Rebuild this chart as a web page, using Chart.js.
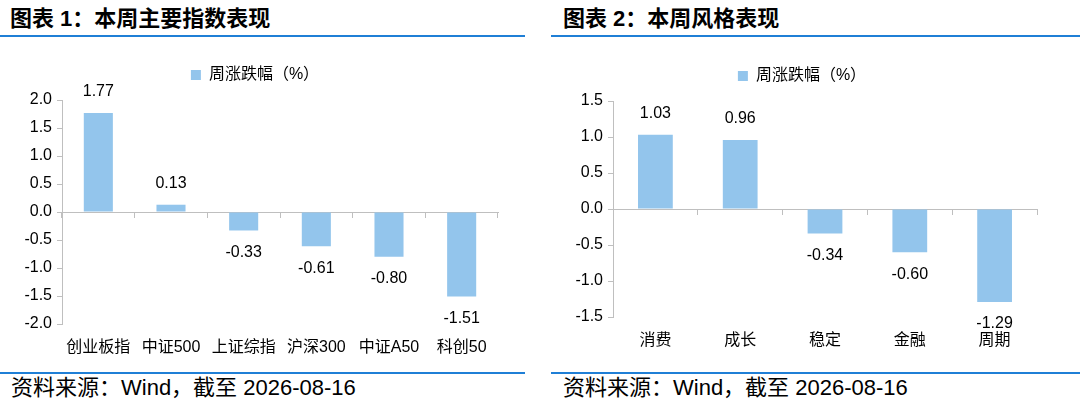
<!DOCTYPE html>
<html>
<head>
<meta charset="utf-8">
<script src="https://cdn.jsdelivr.net/npm/chart.js@4.4.1/dist/chart.umd.min.js"></script>
<style>
    body { margin: 0; background: #fff; width: 1080px; height: 404px; overflow: hidden; position: relative;
           font-family: "Liberation Sans", "Noto Sans CJK SC", sans-serif; color: #000; }
    .title { position: absolute; top: 6px; font-size: 22px; font-weight: bold; line-height: 26px; white-space: nowrap; }
    .source { position: absolute; top: 375px; font-size: 22px; line-height: 26px; white-space: nowrap; }
    .rule { position: absolute; height: 2px; background: #1f7fd6; }
    .box { position: absolute; top: 40px; width: 540px; height: 320px; }
</style>
</head>
<body>
<div class="title" style="left:10px">图表 1：本周主要指数表现</div>
<div class="title" style="left:563px">图表 2：本周风格表现</div>
<div class="rule" style="left:0; width:525px; top:35px"></div>
<div class="rule" style="left:551px; width:529px; top:35px"></div>
<div class="box" style="left:0"><canvas id="chart-index"></canvas></div>
<div class="box" style="left:540px"><canvas id="chart-style"></canvas></div>
<div class="rule" style="left:0; width:525px; top:372px; height:1.5px"></div>
<div class="rule" style="left:551px; width:529px; top:372px; height:1.5px"></div>
<div class="source" style="left:11px">资料来源：Wind，截至 2026-08-16</div>
<div class="source" style="left:563px">资料来源：Wind，截至 2026-08-16</div>

<script>
var seriesName = '周涨跌幅（%）';

var indexLabels = ['创业板指', '中证500', '上证综指', '沪深300', '中证A50', '科创50'];
var indexValues = [1.77, 0.13, -0.33, -0.61, -0.80, -1.51];

var styleLabels = ['消费', '成长', '稳定', '金融', '周期'];
var styleValues = [1.03, 0.96, -0.34, -0.60, -1.29];

var barColor = '#93c5ec';
var axisColor = '#bfbfbf';
var fontFamily = '"Liberation Sans", "Noto Sans CJK SC", sans-serif';

Chart.defaults.font.family = fontFamily;
Chart.defaults.color = '#000';

// value labels above / below each bar
var valueLabels = {
    id: 'valueLabels',
    afterDatasetsDraw: function(chart) {
        var ctx = chart.ctx;
        var meta = chart.getDatasetMeta(0);
        var data = chart.data.datasets[0].data;
        ctx.save();
        ctx.font = '16px ' + fontFamily;
        ctx.fillStyle = '#000';
        ctx.textAlign = 'center';
        ctx.textBaseline = 'middle';
        meta.data.forEach(function(bar, i) {
            var v = data[i];
            var y = v >= 0 ? bar.y - 21 : bar.y + 22;
            ctx.fillText(v.toFixed(2), bar.x, y);
        });
        ctx.restore();
    }
};

// some room between legend and plot
var legendGap = {
    id: 'legendGap',
    beforeInit: function(chart) {
        var fit = chart.legend.fit;
        chart.legend.fit = function() {
            fit.call(this);
            this.height += 7;
        };
    }
};

function makeChart(id, labels, values, opt) {
    return new Chart(document.getElementById(id), {
        type: 'bar',
        data: {
            labels: labels,
            datasets: [{
                label: seriesName,
                data: values,
                backgroundColor: barColor,
                barPercentage: opt.barPct,
                categoryPercentage: 1
            }]
        },
        options: {
            responsive: true,
            maintainAspectRatio: false,
            animation: false,
            layout: { padding: { top: opt.top, left: opt.left, right: opt.right, bottom: 0 } },
            plugins: {
                legend: {
                    position: 'top',
                    labels: { boxWidth: 10, boxHeight: 10, padding: 10, font: { size: 16 }, color: '#000' }
                },
                tooltip: { enabled: false }
            },
            scales: {
                x: {
                    position: { y: 0 },
                    grid: { drawOnChartArea: false, color: axisColor, tickLength: 5 },
                    border: { color: axisColor },
                    ticks: { display: false },
                    afterFit: function(scale) { scale.height = 0; }
                },
                x2: {
                    type: 'category',
                    position: 'bottom',
                    labels: labels,
                    grid: { display: false },
                    border: { display: false },
                    ticks: { font: { size: 16 }, padding: opt.labelPad, color: '#000', maxRotation: 0, autoSkip: false },
                    afterFit: function(scale) { scale.height = opt.bottom; }
                },
                y: {
                    min: opt.min,
                    max: opt.max,
                    grid: { drawOnChartArea: false, color: axisColor, tickLength: 5 },
                    border: { color: axisColor },
                    ticks: {
                        stepSize: 0.5,
                        font: { size: 16 },
                        padding: 5,
                        color: '#000',
                        callback: function(v) { return v.toFixed(1); }
                    },
                    afterFit: function(scale) { scale.width = opt.axisW; }
                }
            }
        },
        plugins: [valueLabels, legendGap]
    });
}

makeChart('chart-index', indexLabels, indexValues,
    { min: -2, max: 2, barPct: 0.4, top: 17, left: 12, axisW: 50, right: 42, bottom: 36, labelPad: 6 });
makeChart('chart-style', styleLabels, styleValues,
    { min: -1.5, max: 1.5, barPct: 0.41, top: 18, left: 27, axisW: 46, right: 43, bottom: 43, labelPad: 6 });
</script>
</body>
</html>
